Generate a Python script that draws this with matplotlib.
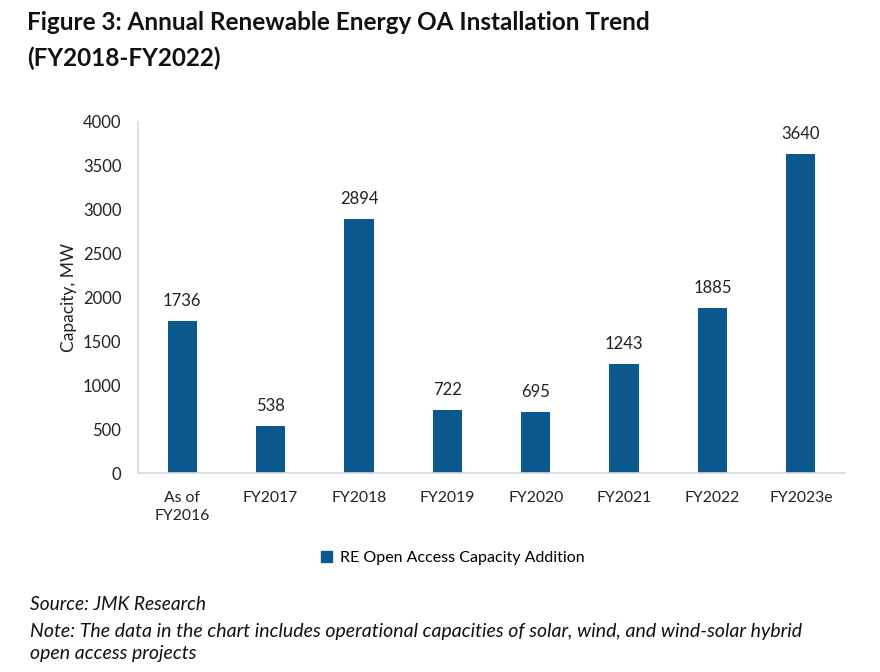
import matplotlib
matplotlib.use("Agg")
import matplotlib.pyplot as plt
from matplotlib.patches import Patch

plt.rcParams['font.family'] = ['Lato', 'DejaVu Sans']

categories = ["As of\nFY2016", "FY2017", "FY2018", "FY2019", "FY2020", "FY2021", "FY2022", "FY2023e"]
values = [1736, 538, 2894, 722, 695, 1243, 1885, 3640]
yticks = [0, 500, 1000, 1500, 2000, 2500, 3000, 3500, 4000]
bar_color = "#0B588E"

fig = plt.figure(figsize=(8.8, 6.72), dpi=100)
ax = fig.add_axes([138/880, 1-473/672, (845-138)/880, (473-122)/672])

x = list(range(len(categories)))
bars = ax.bar(x, values, width=0.33, color=bar_color)
for xi, v in zip(x, values):
    ax.annotate(str(v), (xi, v), xytext=(0, 8.5), textcoords="offset points",
                ha="center", va="bottom", fontsize=12, color="#222222")

ax.set_xlim(-0.5, len(categories) - 0.5)
ax.set_ylim(0, 4000)
ax.set_yticks(yticks)
ax.set_xticks(x)
ax.set_xticklabels(categories, fontsize=11.3, color="#222222", linespacing=1.4)
ax.tick_params(axis='y', labelsize=12, colors="#222222", length=0, pad=12)
ax.tick_params(axis='x', length=0, pad=13)
for s in ["top", "right"]:
    ax.spines[s].set_visible(False)
for s in ["left", "bottom"]:
    ax.spines[s].set_color("#D9D9D9")
    ax.spines[s].set_linewidth(1.2)
ax.set_ylabel("Capacity, MW", fontsize=12.5, color="#222222", labelpad=4)

fig.legend(handles=[Patch(color=bar_color, label="RE Open Access Capacity Addition")],
           loc="center", bbox_to_anchor=(453/880, 1-558/672), frameon=False,
           fontsize=11.5, handlelength=0.7, handleheight=0.7, handletextpad=0.5)

fig.text(27/880, 1-23/672, "Figure 3: Annual Renewable Energy OA Installation Trend",
         fontsize=17.5, fontweight="bold", va="center", ha="left", color="#111111")
fig.text(27/880, 1-58/672, "(FY2018-FY2022)",
         fontsize=17.5, fontweight="bold", va="center", ha="left", color="#111111")

fig.text(30/880, 1-604/672, "Source: JMK Research", fontsize=13.8, style="italic",
         va="center", ha="left", color="#111111")
fig.text(30/880, 1-631/672,
         "Note: The data in the chart includes operational capacities of solar, wind, and wind-solar hybrid",
         fontsize=14, style="italic", va="center", ha="left", color="#111111")
fig.text(30/880, 1-654/672, "open access projects", fontsize=14, style="italic",
         va="center", ha="left", color="#111111")

fig.savefig("out.png", dpi=100)
